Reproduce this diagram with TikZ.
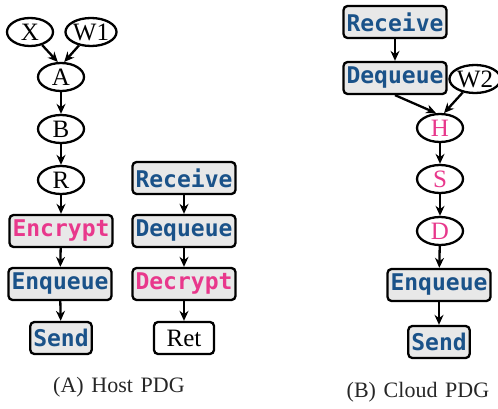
\documentclass[tikz,border=0pt]{standalone}
\usepackage{fontspec}
\setmainfont{Liberation Serif}
\newfontfamily\codefont{DejaVu Sans Mono}
\newfontfamily\capfont[WordSpace=1.4]{Liberation Serif}
\usetikzlibrary{arrows.meta, shapes.geometric}
\definecolor{opblue}{HTML}{1A5289}
\definecolor{oppink}{HTML}{E8388C}
\begin{document}
\begin{tikzpicture}[x=1pt, y=-1pt,
    var/.style={ellipse, draw, line width=2.3pt, minimum width=46pt, minimum height=28pt, inner sep=0pt, font=\fontsize{25}{25}\selectfont},
    op/.style={rectangle, rounded corners=4pt, draw, line width=2.3pt, fill=gray!18, minimum height=32pt, inner xsep=3pt, inner ysep=0pt, font=\codefont\bfseries\fontsize{23}{23}\selectfont, text=opblue},
    arr/.style={-{Stealth[length=10pt,width=9pt]}, line width=2.3pt}]
    \useasboundingbox (0,0) rectangle (498,409);

    % Host PDG, left chain
    \node[var] (X) at (30,32) {X};
    \node[var] (W1) at (91,32) {W1};
    \node[var] (A) at (61,77) {A};
    \node[var] (B) at (61,129) {B};
    \node[var] (R) at (61,180) {R};
    \node[op, text=oppink] (enc) at (61,231) {Encrypt};
    \node[op] (enq1) at (60,284) {Enqueue};
    \node[op] (send1) at (61,338) {Send};
    \draw[arr] (X) -- (A.102);
    \draw[arr] (W1) -- (A.78);
    \draw[arr] (A) -- (B);
    \draw[arr] (B) -- (R);
    \draw[arr] (R) -- (enc);
    \draw[arr] (enc) -- (enq1);
    \draw[arr] (enq1) -- (send1);

    % Host PDG, right chain
    \node[op] (rcv1) at (184,178) {Receive};
    \node[op] (deq1) at (184,231) {Dequeue};
    \node[op, text=oppink] (dec) at (184,284) {Decrypt};
    \node[op, fill=white, text=black, font=\fontsize{25}{25}\selectfont, minimum width=60pt] (ret) at (184,338) {Ret};
    \draw[arr] (rcv1) -- (deq1);
    \draw[arr] (deq1) -- (dec);
    \draw[arr] (dec) -- (ret);
    \node[font=\capfont\fontsize{22}{22}\selectfont, text=black!85] (capA) at (119,387) {(A) Host PDG};

    % Cloud PDG
    \node[op] (rcv2) at (395,22) {Receive};
    \node[op] (deq2) at (395,78) {Dequeue};
    \node[var, minimum width=44pt] (W2) at (475,79) {W2};
    \node[var, text=oppink] (H) at (440,128) {H};
    \node[var, text=oppink] (S) at (440,179) {S};
    \node[var, text=oppink] (D) at (440,231) {D};
    \node[op] (enq2) at (439,285) {Enqueue};
    \node[op] (send2) at (439,342) {Send};
    \draw[arr] (rcv2) -- (deq2);
    \draw[arr] (deq2.south) -- (H.105);
    \draw[arr] (W2) -- (H.75);
    \draw[arr] (H) -- (S);
    \draw[arr] (S) -- (D);
    \draw[arr] (D) -- (enq2);
    \draw[arr] (enq2) -- (send2);
    \node[font=\capfont\fontsize{22}{22}\selectfont, text=black!85] (capB) at (418,392) {(B) Cloud PDG};
\end{tikzpicture}
\end{document}
